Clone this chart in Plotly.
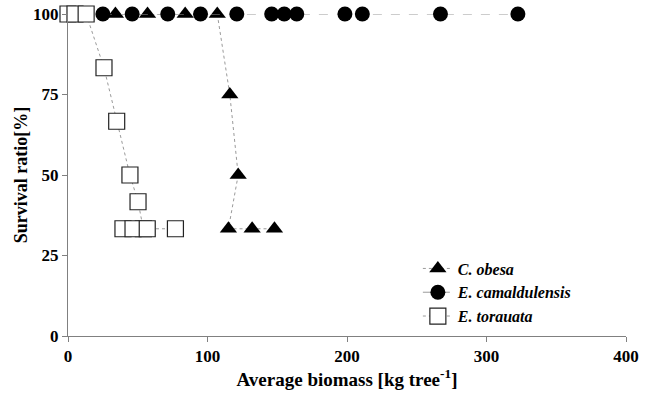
import plotly.graph_objects as go

# C. obesa (triangles)
obesa_x = [34, 57, 84, 107, 116, 122, 115, 132, 148]
obesa_y = [100, 100, 100, 100, 75, 50, 33.3, 33.3, 33.3]

# E. camaldulensis (circles)
cam_x = [25, 46, 71.5, 95, 121, 146, 155, 164, 198.5, 211, 267, 322.5]
cam_y = [100] * 12

# E. torauata (squares)
tor_x = [0, 5, 13, 25.8, 34.9, 44.4, 50.2, 54, 39.4, 46.6, 56.8, 77]
tor_y = [100, 100, 100, 83.3, 66.7, 50, 41.7, 33.3, 33.3, 33.3, 33.3, 33.3]

x_ticks = [0, 100, 200, 300, 400]
y_ticks = [0, 25, 50, 75, 100]

FONT = "Liberation Serif"
LINE_GRAY = "#9a9a9a"

fig = go.Figure()
fig.add_trace(go.Scatter(
    x=tor_x, y=tor_y, mode="lines+markers", name="<b><i>E. torauata</i></b>",
    line=dict(color=LINE_GRAY, width=1, dash="dot"),
    marker=dict(symbol="square", size=16, color="white",
                line=dict(color="#222222", width=1.2)),
    legendrank=3, cliponaxis=False,
))
fig.add_trace(go.Scatter(
    x=obesa_x, y=obesa_y, mode="lines+markers", name="<b><i>C. obesa</i></b>",
    line=dict(color=LINE_GRAY, width=1, dash="dot"),
    marker=dict(symbol="triangle-up", size=15, color="black",
                line=dict(width=0)),
    legendrank=1, cliponaxis=False,
))
fig.add_trace(go.Scatter(
    x=cam_x, y=cam_y, mode="lines+markers", name="<b><i>E. camaldulensis</i></b>",
    line=dict(color=LINE_GRAY, width=1, dash="dash"),
    marker=dict(symbol="circle", size=15, color="black",
                line=dict(width=0)),
    legendrank=2, cliponaxis=False,
))

axis_common = dict(
    showgrid=False, zeroline=False, showline=True,
    linecolor="#808080", linewidth=1,
    ticks="outside", ticklen=5, tickcolor="#808080", tickwidth=1,
    tickfont=dict(family=FONT, size=17, color="black", weight="bold"),
    automargin=False,
)

fig.update_layout(
    width=650, height=394,
    margin=dict(l=68, r=24, t=14, b=58),
    paper_bgcolor="white", plot_bgcolor="white",
    showlegend=True,
    legend=dict(
        x=0.627, y=0.135, xanchor="left", yanchor="middle",
        bgcolor="rgba(0,0,0,0)",
        font=dict(family=FONT, size=16, color="black"),
        itemwidth=30, tracegroupgap=0,
    ),
    xaxis=dict(
        range=[0, 400], tickvals=x_ticks, ticktext=[str(v) for v in x_ticks],
        title=dict(text="Average biomass [kg tree<sup>-1</sup>]",
                   font=dict(family=FONT, size=19, color="black", weight="bold"),
                   standoff=2),
        **axis_common,
    ),
    yaxis=dict(
        range=[0, 100], tickvals=y_ticks, ticktext=[str(v) for v in y_ticks],
        title=dict(text="Survival ratio[%]",
                   font=dict(family=FONT, size=18, color="black", weight="bold"),
                   standoff=0),
        **axis_common,
    ),
)

fig.write_html(
    "out.html",
    config={"displayModeBar": False},
    post_script="document.body.style.margin='0';document.body.style.overflow='hidden';",
)
